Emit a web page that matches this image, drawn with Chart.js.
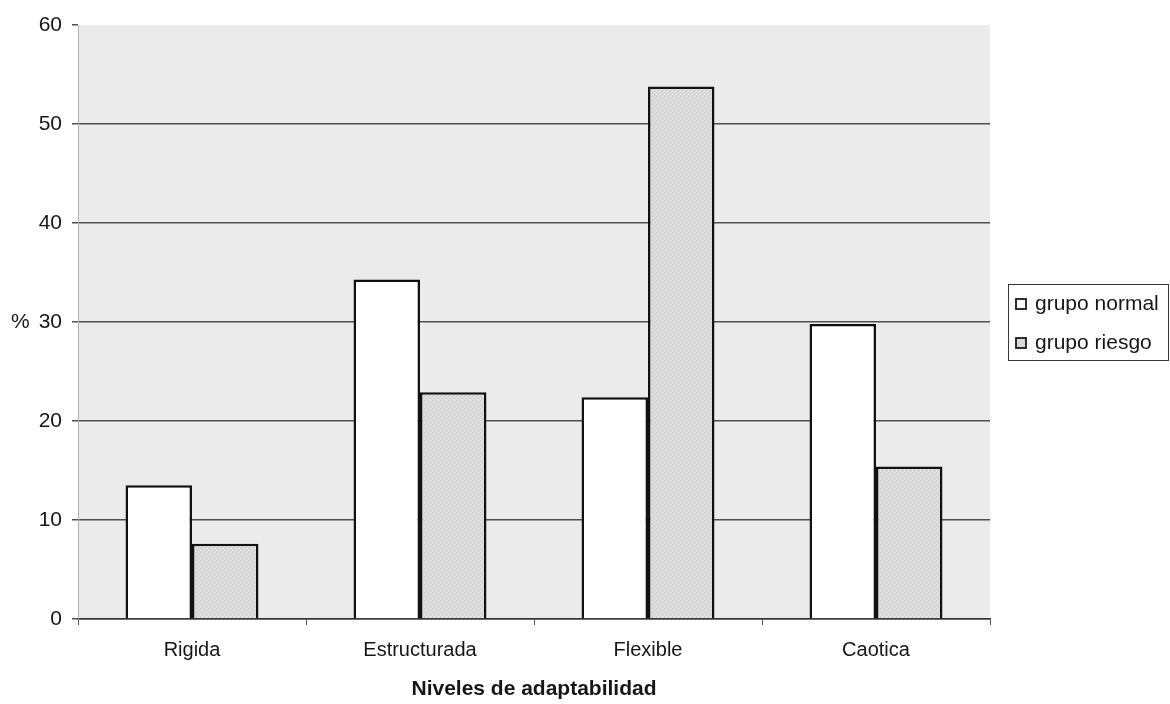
<!DOCTYPE html>
<html>
<head>
<meta charset="utf-8">
<script src="https://cdn.jsdelivr.net/npm/chart.js@4/dist/chart.umd.min.js"></script>
<style>
  html, body { margin: 0; padding: 0; background: #ffffff; }
  #wrap { width: 1170px; height: 704px; }
</style>
</head>
<body>
<div id="wrap"><canvas id="c" width="1170" height="704"></canvas></div>
<script>
// Niveles de adaptabilidad: porcentaje por grupo
const categories = ['Rigida', 'Estructurada', 'Flexible', 'Caotica'];
const grupoNormal = [13.5, 34.3, 22.4, 29.8];
const grupoRiesgo = [7.6, 22.9, 53.8, 15.4];
const seriesLabels = ['grupo normal', 'grupo riesgo'];
const yTicks = [0, 10, 20, 30, 40, 50, 60];

const FONT = "'Liberation Sans', Arial, sans-serif";
const TEXT = '#161616';

// speckled grey fill for the second series
function speckle() {
  const p = document.createElement('canvas');
  p.width = 4; p.height = 4;
  const g = p.getContext('2d');
  g.fillStyle = '#dadada';
  g.fillRect(0, 0, 4, 4);
  g.fillStyle = '#c8c8c8';
  g.fillRect(0, 0, 1, 1); g.fillRect(2, 2, 1, 1);
  g.fillStyle = '#e8e8e8';
  g.fillRect(2, 0, 1, 1); g.fillRect(0, 2, 1, 1);
  return g.createPattern(p, 'repeat');
}
const riesgoFill = speckle();

const plotBackground = {
  id: 'plotBackground',
  beforeDraw(chart) {
    const { ctx, chartArea: a } = chart;
    ctx.save();
    ctx.fillStyle = '#ebebeb';
    ctx.fillRect(a.left, a.top, a.right - a.left, a.bottom - a.top);
    ctx.restore();
  }
};

const extras = {
  id: 'extras',
  afterDraw(chart) {
    const { ctx } = chart;
    const y = chart.scales.y;
    ctx.save();
    // unit label beside the 30 tick
    ctx.font = '21px ' + FONT;
    ctx.fillStyle = TEXT;
    ctx.textAlign = 'left';
    ctx.textBaseline = 'middle';
    ctx.fillText('%', 11, y.getPixelForValue(30));

    // framed legend
    const lx = 1008, ly = 284, lw = 160, lh = 76;
    ctx.fillStyle = '#ffffff';
    ctx.fillRect(lx, ly, lw, lh);
    ctx.strokeStyle = '#3a3a3a';
    ctx.lineWidth = 1;
    ctx.strokeRect(lx + 0.5, ly + 0.5, lw, lh);
    chart.data.datasets.forEach((ds, i) => {
      const cy = 304 + i * 39;
      ctx.fillStyle = ds.backgroundColor;
      ctx.fillRect(1016, cy - 5, 10, 10);
      ctx.strokeStyle = '#1a1a1a';
      ctx.lineWidth = 1.8;
      ctx.strokeRect(1016, cy - 5, 10, 10);
      ctx.fillStyle = TEXT;
      ctx.font = '21px ' + FONT;
      ctx.textBaseline = 'middle';
      ctx.fillText(ds.label, 1035, cy);
    });
    ctx.restore();
  }
};

new Chart(document.getElementById('c'), {
  type: 'bar',
  data: {
    labels: categories,
    datasets: [
      {
        label: seriesLabels[0],
        data: grupoNormal,
        backgroundColor: '#ffffff',
        borderColor: '#111111',
        borderWidth: 2.5
      },
      {
        label: seriesLabels[1],
        data: grupoRiesgo,
        backgroundColor: riesgoFill,
        borderColor: '#111111',
        borderWidth: 2.5
      }
    ]
  },
  options: {
    responsive: false,
    animation: false,
    devicePixelRatio: 1,
    layout: { padding: { top: 25, right: 180, bottom: 0, left: 0 } },
    datasets: { bar: { categoryPercentage: 0.583, barPercentage: 1.0 } },
    plugins: {
      legend: { display: false },
      tooltip: { enabled: false }
    },
    scales: {
      x: {
        afterFit(s) { s.height = 85; },
        grid: {
          offset: true,
          drawOnChartArea: false,
          drawTicks: true,
          tickLength: 6,
          color: '#555555',
          lineWidth: 1
        },
        border: { display: true, color: '#333333', width: 1.5 },
        ticks: {
          font: { family: FONT, size: 20 },
          color: TEXT,
          padding: 13,
          maxRotation: 0
        },
        title: {
          display: true,
          text: 'Niveles de adaptabilidad',
          font: { family: FONT, size: 21, weight: 'bold' },
          color: TEXT,
          padding: { top: 0, bottom: 2 }
        }
      },
      y: {
        min: 0,
        max: 60,
        afterFit(s) { s.width = 78; },
        afterBuildTicks(s) { s.ticks = yTicks.map(v => ({ value: v })); },
        grid: {
          drawTicks: true,
          tickLength: 6,
          color: ctx => (ctx.tick && ctx.tick.value === 60) ? 'rgba(0,0,0,0)' : '#505050',
          tickColor: '#505050',
          lineWidth: 1.5
        },
        border: { display: true, color: '#b0b0b0', width: 1 },
        ticks: {
          font: { family: FONT, size: 21 },
          color: TEXT,
          padding: 10
        }
      }
    }
  },
  plugins: [plotBackground, extras]
});
</script>
</body>
</html>
